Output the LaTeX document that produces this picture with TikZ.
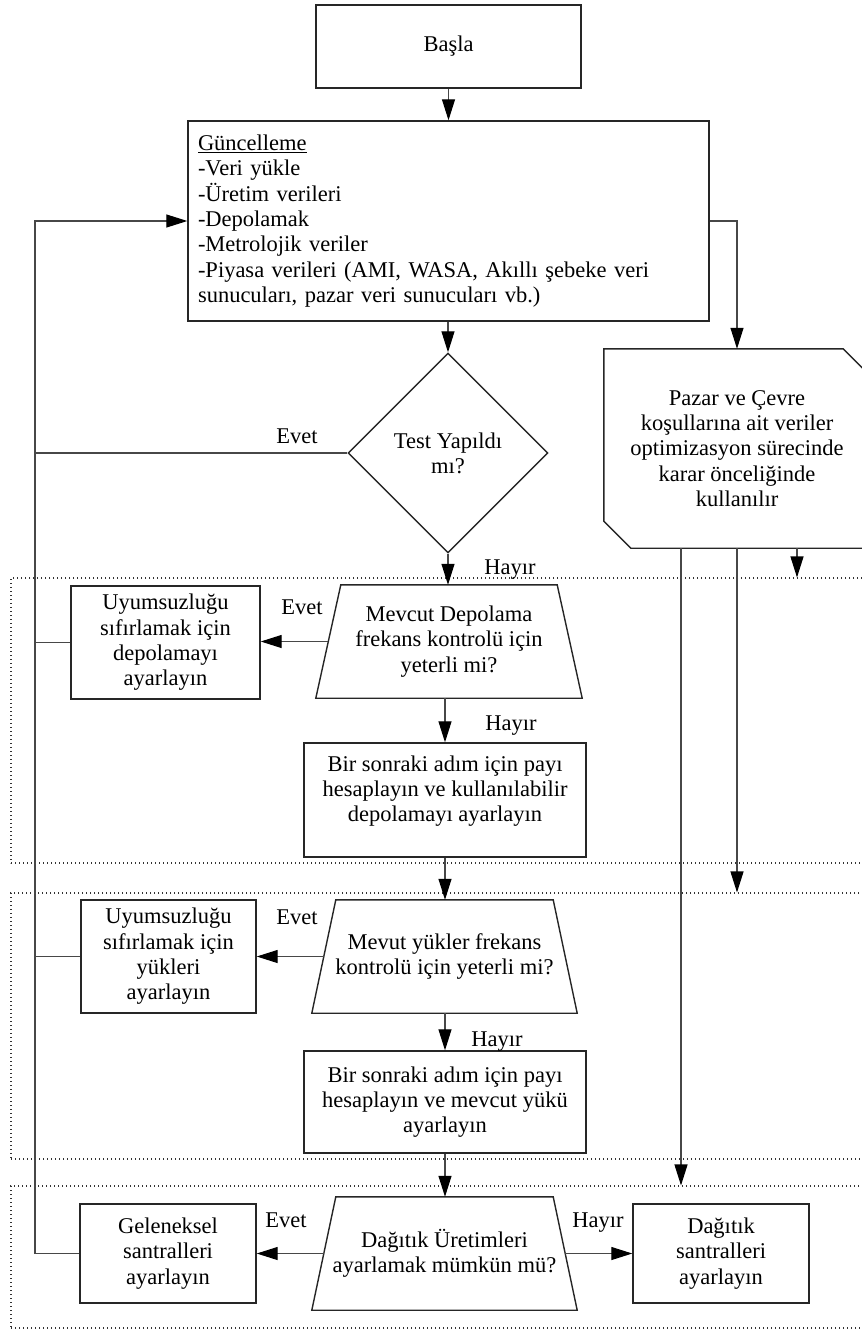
\documentclass[tikz,border=0pt]{standalone}
\usepackage{fontspec}
\setmainfont{Liberation Serif}
\usetikzlibrary{shapes.geometric,arrows.meta,calc}
\begin{document}
\begin{tikzpicture}[x=1pt,y=-1pt,
  font=\fontsize{22.5}{25.3}\selectfont,
  box/.style={draw=black!85, line width=1.4pt, inner sep=0pt, align=center},
  outline/.style={draw=black!85, line width=1.4pt},
  conn/.style={draw=black!72, line width=1.1pt},
  arr/.style={conn, -{Triangle[length=21pt,width=13pt,fill=black,color=black]}},
  grp/.style={draw=black!80, line width=1.1pt, dash pattern=on 1.1pt off 2.9pt, inner sep=0pt},
  lbl/.style={inner sep=0pt, text height=16pt, text depth=2pt},
]
\useasboundingbox (0,0) rectangle (862,1331);

% group frames
\node[grp, minimum width=869pt, minimum height=285pt] (grp1) at (445.5,720.5) {};
\node[grp, minimum width=869pt, minimum height=266pt] (grp2) at (445.5,1026) {};
\node[grp, minimum width=869pt, minimum height=142pt] (grp3) at (445.5,1257) {};

% start
\node[box, minimum width=265pt, minimum height=83pt] (start) at (448.5,46.5) {Başla};

% update box
\node[box, minimum width=521pt, minimum height=200pt, text width=501pt, align=left] (upd) at (448.5,221)
  {\underline{Güncelleme}\\-Veri yükle\\-Üretim verileri\\-Depolamak\\-Metrolojik veriler\\-Piyasa verileri (AMI, WASA, Akıllı şebeke veri\\sunucuları, pazar veri sunucuları vb.)};

% decision diamond
\node[diamond, draw=black!85, line width=1.4pt, minimum width=200pt, minimum height=200pt, aspect=1, inner sep=0pt, align=center] (test) at (448,453) {Test Yapıldı\\mı?};

% market shape (two chamfered corners)
\node[inner sep=0pt, minimum width=266pt, minimum height=199pt, align=center] (pz) at (737,448.5)
  {Pazar ve Çevre\\koşullarına ait veriler\\optimizasyon sürecinde\\karar önceliğinde\\kullanılır};
\draw[outline] (pz.north west) -- ($(pz.north east)+(-27,0)$) -- ($(pz.north east)+(0,27)$)
  -- (pz.south east) -- ($(pz.south west)+(27,0)$) -- ($(pz.south west)+(0,-27)$) -- cycle;

% block 1
\node[box, minimum width=189pt, minimum height=113pt] (a1) at (165.5,642.5) {Uyumsuzluğu\\sıfırlamak için\\depolamayı\\ayarlayın};
\node[inner sep=0pt, minimum width=266pt, minimum height=113pt, align=center] (t1) at (449,641.5) {Mevcut Depolama\\frekans kontrolü için\\yeterli mi?};
\draw[outline] (t1.south west) -- ($(t1.north west)+(25,0)$) -- ($(t1.north east)+(-25,0)$) -- (t1.south east) -- cycle;
\coordinate (t1L) at ($(t1.west)+(12.5,0)$);
\node[box, minimum width=282pt, minimum height=114pt] (b1) at (445,800) {};
\node[inner sep=0pt, align=center] (b1t) at (445,791) {Bir sonraki adım için payı\\hesaplayın ve kullanılabilir\\depolamayı ayarlayın};

% block 2
\node[box, minimum width=175pt, minimum height=113pt] (a2) at (168.5,956.5) {Uyumsuzluğu\\sıfırlamak için\\yükleri\\ayarlayın};
\node[inner sep=0pt, minimum width=265pt, minimum height=113pt, align=center] (t2) at (444.5,956.5) {Mevut yükler frekans\\kontrolü için yeterli mi?};
\draw[outline] (t2.south west) -- ($(t2.north west)+(24,0)$) -- ($(t2.north east)+(-24,0)$) -- (t2.south east) -- cycle;
\coordinate (t2L) at ($(t2.west)+(12,0)$);
\node[box, minimum width=282pt, minimum height=102pt] (b2) at (445,1102) {Bir sonraki adım için payı\\hesaplayın ve mevcut yükü\\ayarlayın};

% block 3
\node[box, minimum width=176pt, minimum height=99pt] (g) at (168,1253.5) {Geleneksel\\santralleri\\ayarlayın};
\node[inner sep=0pt, minimum width=265pt, minimum height=113pt, align=center] (t3) at (444.5,1253.5) {Dağıtık Üretimleri\\ayarlamak mümkün mü?};
\draw[outline] (t3.south west) -- ($(t3.north west)+(24,0)$) -- ($(t3.north east)+(-24,0)$) -- (t3.south east) -- cycle;
\coordinate (t3L) at ($(t3.west)+(12,0)$);
\coordinate (t3R) at ($(t3.east)+(-12,0)$);
\node[box, minimum width=176pt, minimum height=99pt] (d) at (721,1253.5) {Dağıtık\\santralleri\\ayarlayın};

% labels
\node[lbl] (ev1) at (297,436) {Evet};
\node[lbl] (hy1) at (510,567) {Hayır};
\node[lbl] (ev2) at (302,607) {Evet};
\node[lbl] (hy2) at (511,723) {Hayır};
\node[lbl] (ev3) at (297,917) {Evet};
\node[lbl] (hy3) at (497,1039) {Hayır};
\node[lbl] (ev4) at (286,1220) {Evet};
\node[lbl] (hy4) at (598,1220) {Hayır};

% connectors
\coordinate (fb) at (35,221);
\draw[arr] (start.south) -- (upd.north);
\draw[arr] (upd.south -| test.north) -- (test.north);
\draw[arr] (g.west) -| (fb) -- (upd.west);
\draw[conn] (test.west) -- (test.west -| fb);
\draw[conn] (a1.west) -- (a1.west -| fb);
\draw[conn] (a2.west) -- (a2.west -| fb);
\draw[arr] (test.south) -- (test.south |- t1.north);
\draw[arr] (t1L) -- (t1L -| a1.east);
\draw[arr] (t1.south -| b1.north) -- (b1.north);
\draw[arr] (b1.south) -- (b1.south |- t2.north);
\draw[arr] (t2L) -- (t2L -| a2.east);
\draw[arr] (t2.south -| b2.north) -- (b2.north);
\draw[arr] (b2.south) -- (b2.south |- t3.north);
\draw[arr] (t3L) -- (t3L -| g.east);
\draw[arr] (t3R) -- (t3R -| d.west);
\draw[arr] (upd.east) -| (pz.north);
\coordinate (pzA) at ($(pz.south)+(-56,0)$);
\coordinate (pzC) at ($(pz.south)+(60,0)$);
\draw[arr] (pzC) -- (pzC |- grp1.north);
\draw[arr] (pz.south) -- (pz.south |- grp2.north);
\draw[arr] (pzA) -- (pzA |- grp3.north);
\end{tikzpicture}
\end{document}
